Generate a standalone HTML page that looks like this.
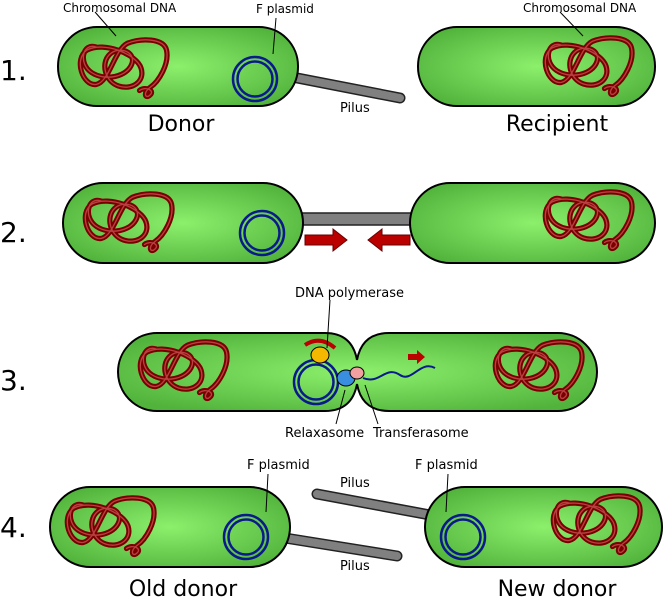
<!DOCTYPE html>
<html><head><meta charset="utf-8"><style>
body{margin:0;background:#fff}
svg{display:block;font-family:"DejaVu Sans","Liberation Sans",sans-serif}
</style></head><body>
<svg width="664" height="602" viewBox="0 0 664 602">
<defs>
<radialGradient id="g" cx="50%" cy="50%" r="60%"><stop offset="0" stop-color="#8cf06c"/><stop offset="1" stop-color="#52b33c"/></radialGradient>
<g id="dna">
<path d="M-36,-28 C-54,-34 -60,-6 -42,6 C-24,18 6,12 12,-6 C17,-22 -6,-30 -18,-18 C-30,-6 -24,18 -6,24 C12,30 30,18 24,0 C18,-18 -24,-36 -48,-24 C-66,-12 -54,24 -36,22 C-18,19 -12,-24 6,-33 C24,-40 54,-40 58,-24 C62,-6 48,18 36,26 C26,33 30,42 36,36 C43,30 30,24 22,30" fill="none" stroke="#7a0000" stroke-width="7" stroke-linecap="round"/>
<path d="M-36,-28 C-54,-34 -60,-6 -42,6 C-24,18 6,12 12,-6 C17,-22 -6,-30 -18,-18 C-30,-6 -24,18 -6,24 C12,30 30,18 24,0 C18,-18 -24,-36 -48,-24 C-66,-12 -54,24 -36,22 C-18,19 -12,-24 6,-33 C24,-40 54,-40 58,-24 C62,-6 48,18 36,26 C26,33 30,42 36,36 C43,30 30,24 22,30" fill="none" stroke="#b84040" stroke-width="1.8" stroke-linecap="round"/>
</g>
<g id="plas"><circle r="22" fill="none" stroke="#0a1a8a" stroke-width="2.5"/><circle r="17.5" fill="none" stroke="#0a1a8a" stroke-width="2.5"/></g>
</defs>
<g font-size="28" fill="#000">
<text x="0" y="80">1.</text><text x="0" y="242">2.</text><text x="0" y="390">3.</text><text x="0" y="537">4.</text>
</g>
<!-- Row 1 -->
<line x1="292" y1="77" x2="400" y2="98" stroke="#222" stroke-width="11" stroke-linecap="round"/>
<line x1="292" y1="77" x2="400" y2="98" stroke="#808080" stroke-width="8" stroke-linecap="round"/>
<rect x="58" y="27" width="240" height="79" rx="39" fill="url(#g)" stroke="#000" stroke-width="2"/>
<rect x="418" y="27" width="237" height="79" rx="39" fill="url(#g)" stroke="#000" stroke-width="2"/>
<use href="#dna" transform="translate(123,68) scale(0.75)"/><use href="#dna" transform="translate(588,66) scale(0.75)"/><use href="#plas" x="255" y="79"/>
<line x1="95" y1="12" x2="116" y2="36" stroke="#000"/><line x1="276" y1="18" x2="273" y2="54" stroke="#000"/><line x1="560" y1="12" x2="583" y2="36" stroke="#000"/>
<g font-size="12"><text x="63" y="12">Chromosomal DNA</text><text x="256" y="13">F plasmid</text><text x="523" y="12">Chromosomal DNA</text><text x="340" y="112" font-size="13">Pilus</text></g>
<g font-size="22" text-anchor="middle"><text x="181" y="131">Donor</text><text x="557" y="131">Recipient</text></g>
<!-- Row 2 -->
<rect x="298" y="213" width="118" height="12" fill="#808080" stroke="#222" stroke-width="1.5"/>
<rect x="63" y="183" width="240" height="80" rx="40" fill="url(#g)" stroke="#000" stroke-width="2"/>
<rect x="410" y="183" width="245" height="80" rx="40" fill="url(#g)" stroke="#000" stroke-width="2"/>
<use href="#dna" transform="translate(128,222) scale(0.75)"/><use href="#dna" transform="translate(588,220) scale(0.75)"/><use href="#plas" x="262" y="233"/>
<path d="M305,235 h28 v-6 l14,11 l-14,11 v-6 h-28z" fill="#b00" stroke="#600"/>
<path d="M410,235 h-28 v-6 l-14,11 l14,11 v-6 h28z" fill="#b00" stroke="#600"/>
<!-- Row 3 -->
<path d="M157,333 H325 Q352,333 357,360 Q362,333 389,333 H558 A39,39 0 0 1 558,411 H389 Q362,411 357,384 Q352,411 325,411 H157 A39,39 0 0 1 157,333Z" fill="url(#g)" stroke="#000" stroke-width="2"/>
<use href="#dna" transform="translate(183,370) scale(0.75)"/><use href="#dna" transform="translate(538,370) scale(0.75)"/><use href="#plas" x="316" y="382"/>
<path d="M363,378 C380,385 385,365 400,375 C412,383 420,360 435,368" fill="none" stroke="#0a1a8a" stroke-width="2"/>
<path d="M305,345 Q320,335 335,348" fill="none" stroke="#b00" stroke-width="4"/>
<ellipse cx="320" cy="355" rx="9" ry="8" fill="#f5b800" stroke="#000"/>
<ellipse cx="346" cy="378" rx="9" ry="8" fill="#3a8ee0" stroke="#000"/>
<ellipse cx="357" cy="373" rx="7" ry="6" fill="#f0a0a0" stroke="#000"/>
<path d="M408,354 h9 v-4 l8,7 l-8,7 v-4 h-9z" fill="#b00"/>
<line x1="330" y1="300" x2="327" y2="348" stroke="#000"/><line x1="345" y1="390" x2="336" y2="424" stroke="#000"/><line x1="365" y1="385" x2="378" y2="424" stroke="#000"/>
<g font-size="13"><text x="295" y="297">DNA polymerase</text><text x="285" y="437">Relaxasome</text><text x="373" y="437">Transferasome</text></g>
<!-- Row 4 -->
<line x1="317" y1="494" x2="430" y2="515" stroke="#222" stroke-width="11" stroke-linecap="round"/>
<line x1="317" y1="494" x2="430" y2="515" stroke="#808080" stroke-width="8" stroke-linecap="round"/>
<line x1="285" y1="538" x2="397" y2="556" stroke="#222" stroke-width="11" stroke-linecap="round"/>
<line x1="285" y1="538" x2="397" y2="556" stroke="#808080" stroke-width="8" stroke-linecap="round"/>
<rect x="50" y="487" width="240" height="80" rx="40" fill="url(#g)" stroke="#000" stroke-width="2"/>
<rect x="425" y="487" width="237" height="80" rx="40" fill="url(#g)" stroke="#000" stroke-width="2"/>
<use href="#dna" transform="translate(110,526) scale(0.75)"/><use href="#dna" transform="translate(596,524) scale(0.75)"/><use href="#plas" x="246" y="537"/><use href="#plas" x="463" y="537"/>
<line x1="268" y1="474" x2="266" y2="512" stroke="#000"/><line x1="448" y1="474" x2="446" y2="512" stroke="#000"/>
<g font-size="13"><text x="247" y="469">F plasmid</text><text x="415" y="469">F plasmid</text><text x="340" y="487">Pilus</text><text x="340" y="570">Pilus</text></g>
<g font-size="22" text-anchor="middle"><text x="183" y="596">Old donor</text><text x="557" y="596">New donor</text></g>
</svg>
</body></html>
